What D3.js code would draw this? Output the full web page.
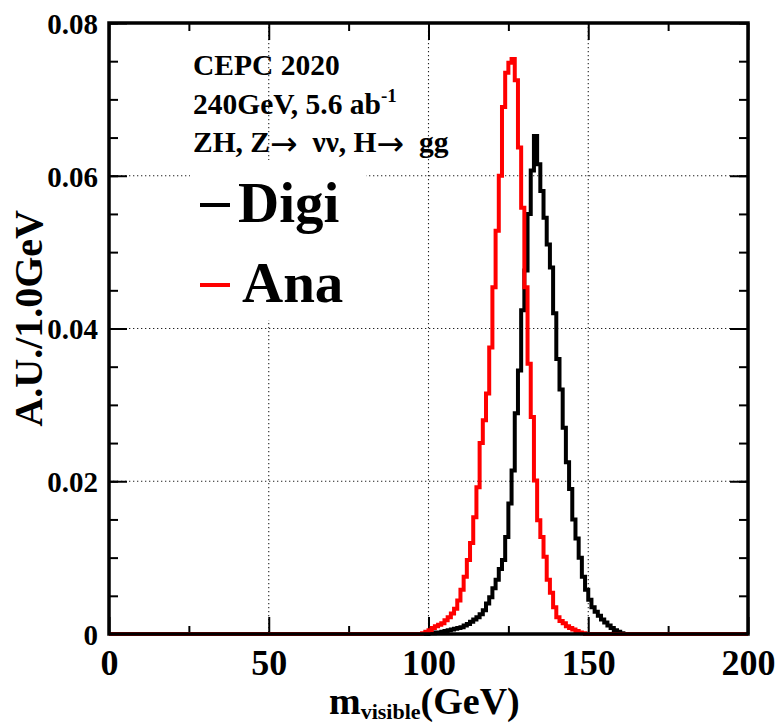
<!DOCTYPE html>
<html>
<head>
<meta charset="utf-8">
<script src="https://cdn.jsdelivr.net/npm/d3@7"></script>
<style>
  html, body { margin: 0; padding: 0; background: #fff; }
  svg { display: block; }
  text { font-family: "Liberation Serif", "Times New Roman", serif; font-weight: bold; }
</style>
</head>
<body>
<script>
"use strict";

// bin width 1 GeV (non-zero region only)
const nBins = 200;
const digiStart = 100;
const digiValues = [
  0.0001, 0.0001, 0.0002, 0.0002, 0.0003, 0.0004, 0.0005, 0.0006, 0.0007, 0.0008,
  0.0009, 0.0011, 0.0013, 0.0016, 0.0019, 0.0022, 0.0026, 0.0031, 0.0040, 0.0048,
  0.0060, 0.0071, 0.0085, 0.0097, 0.0127, 0.0171, 0.0214, 0.0289, 0.0345, 0.0424,
  0.0476, 0.0550, 0.0607, 0.0652, 0.0615, 0.0580, 0.0545, 0.0510, 0.0480, 0.0420,
  0.0360, 0.0320, 0.0270, 0.0225, 0.0190, 0.0150, 0.0125, 0.0100, 0.0075, 0.0058,
  0.0045, 0.0035, 0.0029, 0.0024, 0.0019, 0.0015, 0.0011, 0.0008, 0.0005, 0.0003,
  0.0001
];
const anaStart = 98;
const anaValues = [
  0.0001, 0.0003, 0.0005, 0.0008, 0.0010, 0.0012, 0.0014, 0.0018, 0.0022, 0.0027,
  0.0033, 0.0044, 0.0058, 0.0075, 0.0097, 0.0119, 0.0153, 0.0192, 0.0250, 0.0280,
  0.0315, 0.0375, 0.0454, 0.0528, 0.0600, 0.0690, 0.0735, 0.0748, 0.0753, 0.0725,
  0.0637, 0.0558, 0.0454, 0.0354, 0.0284, 0.0201, 0.0149, 0.0127, 0.0101, 0.0071,
  0.0054, 0.0035, 0.0022, 0.0017, 0.0014, 0.0010, 0.0008, 0.0006, 0.0004, 0.0002,
  0.0001
];
const xTicks = [0, 50, 100, 150, 200];
const xMinor = [25, 75, 125, 175];
const yTicks = [0, 0.02, 0.04, 0.06, 0.08];
const yMinor = d3.range(0, 0.0801, 0.005);
const infoLines = ["CEPC 2020", "240GeV, 5.6 ab", "ZH, Z\u2192  \u03bd\u03bd, H\u2192  gg"];
const legendNames = ["Digi", "Ana"];
const legendColors = ["#000", "#ff0000"];

function fullHist(start, vals)
{
	let h = new Array(nBins).fill(0);
	vals.forEach(function(v, i) { h[start + i] = v; });
	return h;
}

const width = 778, height = 723;
const pLeft = 109, pRight = 748, pTop = 23, pBottom = 634;

let svg = d3.select("body").append("svg")
	.attr("width", width)
	.attr("height", height);

let x = d3.scaleLinear().domain([0, 200]).range([pLeft, pRight]);
let y = d3.scaleLinear().domain([0, 0.08]).range([pBottom, pTop]);

//grid
let grid = svg.append("g")
	.attr("stroke", "#222")
	.attr("stroke-width", 1.1)
	.attr("stroke-dasharray", "1.3,2.7");
grid.selectAll(".gx").data(xTicks.slice(1, -1)).enter().append("line")
	.attr("x1", d => x(d)).attr("x2", d => x(d))
	.attr("y1", pTop).attr("y2", pBottom);
grid.selectAll(".gy").data(yTicks.slice(1, -1)).enter().append("line")
	.attr("y1", d => y(d)).attr("y2", d => y(d))
	.attr("x1", pLeft).attr("x2", pRight);

//legend box hides grid
svg.append("rect")
	.attr("x", 190).attr("y", 160)
	.attr("width", 176).attr("height", 160)
	.attr("fill", "#fff");

//ticks (inward, on all four sides)
function tickGroup(axis, tx, ty)
{
	let g = svg.append("g").attr("transform", "translate(" + tx + "," + ty + ")").call(axis);
	g.select(".domain").remove();
	g.selectAll(".tick line").attr("stroke", "#000").attr("stroke-width", 2);
	return g;
}
let noLabel = () => "";
tickGroup(d3.axisBottom(x).tickValues(xTicks).tickSize(-17).tickFormat(noLabel), 0, pBottom);
tickGroup(d3.axisBottom(x).tickValues(xMinor).tickSize(-8).tickFormat(noLabel), 0, pBottom);
tickGroup(d3.axisTop(x).tickValues(xTicks).tickSize(-17).tickFormat(noLabel), 0, pTop);
tickGroup(d3.axisTop(x).tickValues(xMinor).tickSize(-8).tickFormat(noLabel), 0, pTop);
tickGroup(d3.axisLeft(y).tickValues(yTicks).tickSize(-18).tickFormat(noLabel), pLeft, 0);
tickGroup(d3.axisLeft(y).tickValues(yMinor).tickSize(-9).tickFormat(noLabel), pLeft, 0);
tickGroup(d3.axisRight(y).tickValues(yTicks).tickSize(-18).tickFormat(noLabel), pRight, 0);
tickGroup(d3.axisRight(y).tickValues(yMinor).tickSize(-9).tickFormat(noLabel), pRight, 0);

//tick labels
let xl = tickGroup(d3.axisBottom(x).tickValues(xTicks).tickSize(0).tickPadding(0)
	.tickFormat(d3.format("d")), 0, pBottom);
xl.selectAll("text")
	.attr("font-size", 36).attr("fill", "#000")
	.attr("dy", null).attr("y", 41)
	.attr("font-family", "Liberation Serif");
let yl = tickGroup(d3.axisLeft(y).tickValues(yTicks).tickSize(0).tickPadding(11)
	.tickFormat(d => d === 0 ? "0" : d3.format(".2f")(d)), pLeft, 0);
yl.selectAll("text")
	.attr("font-size", 29).attr("fill", "#000")
	.attr("dy", "0.36em")
	.attr("font-family", "Liberation Serif");

//histograms
let line = d3.line()
	.x(d => x(d[0]))
	.y(d => y(d[1]))
	.curve(d3.curveStepAfter);
function histPoints(h)
{
	let pts = h.map((v, i) => [i, v]);
	pts.push([nBins, h[nBins - 1]]);
	return pts;
}
[fullHist(digiStart, digiValues), fullHist(anaStart, anaValues)].forEach(function(h, i)
{
	svg.append("path")
		.attr("d", line(histPoints(h)))
		.attr("fill", "none")
		.attr("stroke", legendColors[i])
		.attr("stroke-width", 4)
		.attr("stroke-linejoin", "miter");
});

//frame
svg.append("rect")
	.attr("x", pLeft).attr("y", pTop)
	.attr("width", pRight - pLeft).attr("height", pBottom - pTop)
	.attr("fill", "none")
	.attr("stroke", "#000")
	.attr("stroke-width", 3.5);

//info text, arrows drawn bigger like the symbol font
let info = svg.append("g").attr("font-size", 29.5).attr("fill", "#000");
infoLines.forEach(function(s, i)
{
	let t = info.append("text")
		.attr("x", 193)
		.attr("y", 75 + i * 38.5)
		.attr("xml:space", "preserve")
		.style("white-space", "pre");
	s.split("\u2192").forEach(function(part, k)
	{
		if (k > 0)
			t.append("tspan")
				.attr("font-family", "DejaVu Sans")
				.attr("font-weight", "normal")
				.attr("font-size", 33)
				.attr("dy", 3)
				.text("\u2192");
		t.append("tspan").attr("dy", k > 0 ? -3 : 0).text(part);
	});
	if (i === 1)
		t.append("tspan").attr("font-size", 19).attr("dy", -12).text("-1");
});

//legend
let lg = svg.append("g");
legendNames.forEach(function(name, i)
{
	let by = 222 + i * 80;
	lg.append("line")
		.attr("x1", 200).attr("x2", 230)
		.attr("y1", by - 17).attr("y2", by - 17)
		.attr("stroke", legendColors[i])
		.attr("stroke-width", 4);
	lg.append("text")
		.attr("x", i === 0 ? 238 : 242).attr("y", by)
		.attr("font-size", 57).attr("fill", "#000")
		.text(name);
});

//axis titles
svg.append("text")
	.attr("transform", "translate(42,210) rotate(-90)")
	.attr("text-anchor", "end")
	.attr("font-size", 40)
	.text("A.U./1.0GeV");
let xt = svg.append("text")
	.attr("x", 329).attr("y", 714)
	.attr("font-size", 38);
xt.append("tspan").text("m");
xt.append("tspan").attr("font-size", 22).attr("dy", 5).text("visible");
xt.append("tspan").attr("dy", -5).text("(GeV)");
</script>
</body>
</html>
